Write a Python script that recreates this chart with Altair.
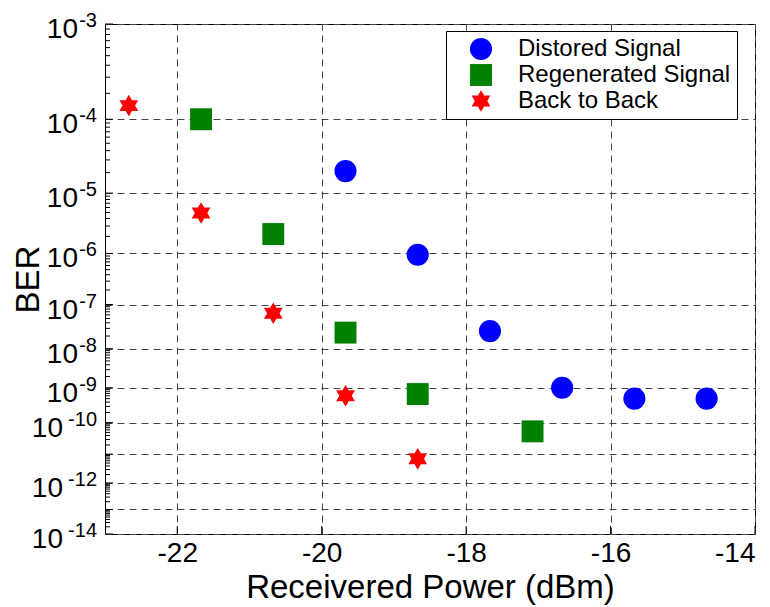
import math
import altair as alt
import pandas as pd

# ---- data ----
series_names = ["Distored Signal", "Regenerated Signal", "Back to Back"]
series_colors = ["#0000FF", "#008000", "#FF0000"]

distorted_power = [-19.67, -18.67, -17.67, -16.67, -15.67, -14.67]
distorted_ber = [2.1e-5, 9.5e-7, 2.6e-8, 1.0e-9, 5.0e-10, 5.0e-10]

regen_power = [-21.67, -20.67, -19.67, -18.67, -17.08]
regen_ber = [1.0e-4, 2.2e-6, 2.4e-8, 6.7e-10, 5.4e-11]

b2b_power = [-22.67, -21.67, -20.67, -19.67, -18.67]
b2b_ber = [1.45e-4, 4.9e-6, 6.5e-8, 6.0e-10, 7.0e-12]

x_ticks = [-22, -20, -18, -16, -14]
y_grid_exps = [3, 4, 5, 6, 7, 8, 9, 10, 11, 12, 13, 14]
y_label_exps = [3, 4, 5, 6, 7, 8, 9, 10, 12, 14]

# ---- tables ----
rows = []
for name, pw, ber in [
    (series_names[0], distorted_power, distorted_ber),
    (series_names[1], regen_power, regen_ber),
    (series_names[2], b2b_power, b2b_ber),
]:
    for p, b in zip(pw, ber):
        rows.append({"series": name, "power": p, "n": -math.log10(b)})
pts = pd.DataFrame(rows)

grid_df = pd.DataFrame({"n": y_grid_exps})
minor_df = pd.DataFrame(
    {"n": [m + 1 - math.log10(k) for m in range(3, 14) for k in range(2, 10)]}
)
lab_df = pd.DataFrame(
    {
        "n": y_label_exps,
        "ten": ["10"] * len(y_label_exps),
        "exp": ["-" + str(e) for e in y_label_exps],
    }
)
xt_df = pd.DataFrame({"power": x_ticks})

FONT = "Liberation Sans, Arial, sans-serif"
W, H = 650, 510
GRID = "#444444"

x_scale = alt.Scale(domain=[-23, -14], nice=False, zero=False)
y_scale = alt.Scale(type="log", domain=[3, 14], reverse=True, nice=False, zero=False)

x_axis = alt.Axis(
    values=x_ticks,
    grid=True,
    gridDash=[7, 5],
    gridColor=GRID,
    gridOpacity=1,
    ticks=False,
    domain=False,
    labelFontSize=28,
    labelPadding=5,
    labelExpr="'' + datum.value",
    title="Receivered Power (dBm)",
    titleFontSize=33,
    titleFontWeight="normal",
    titleBaseline="alphabetic",
    titleAlign="center",
    titleX=W / 2,
    titleY=63,
)
y_axis = alt.Axis(
    values=y_grid_exps,
    grid=True,
    gridDash=[7, 5],
    gridColor=GRID,
    gridOpacity=1,
    ticks=False,
    domain=False,
    labels=False,
    title="BER",
    titleFontSize=33,
    titleFontWeight="normal",
    titleAngle=-90,
    titleAlign="center",
    titleBaseline="middle",
    titleX=-77,
    titleY=H / 2,
)

X = alt.X("power:Q", scale=x_scale, axis=x_axis, title="Receivered Power (dBm)")
Y = alt.Y("n:Q", scale=y_scale, axis=y_axis, title="BER")

star = ("M0,-1L0.2887,-0.5L0.866,-0.5L0.577,0L0.866,0.5L0.2887,0.5L0,1"
        "L-0.2887,0.5L-0.866,0.5L-0.577,0L-0.866,-0.5L-0.2887,-0.5Z")

points = alt.Chart(pts).mark_point(filled=True, opacity=1).encode(
    x=X,
    y=Y,
    color=alt.Color(
        "series:N",
        sort=series_names,
        scale=alt.Scale(domain=series_names, range=series_colors),
        legend=alt.Legend(
            title=None,
            orient="none",
            legendX=341,
            legendY=7,
            symbolSize=500,
            symbolOpacity=1,
            symbolStrokeWidth=0,
            labelFontSize=24,
            labelFont=FONT,
            labelColor="black",
            labelLimit=400,
            strokeColor="black",
            fillColor="white",
            padding=6,
            symbolOffset=17,
            labelOffset=25,
            rowPadding=2,
        ),
    ),
    shape=alt.Shape(
        "series:N",
        sort=series_names,
        scale=alt.Scale(domain=series_names, range=["circle", "square", star]),
    ),
    size=alt.Size(
        "series:N",
        sort=series_names,
        scale=alt.Scale(domain=series_names, range=[490, 470, 530]),
        legend=None,
    ),
)

major_ticks = alt.Chart(grid_df).mark_rule(color="black", strokeWidth=1).encode(
    y=Y,
    x=alt.value(0),
    x2=alt.value(8),
)
minor_ticks = alt.Chart(minor_df).mark_rule(color="black", strokeWidth=1).encode(
    y=Y,
    x=alt.value(0),
    x2=alt.value(5),
)
bottom_ticks = alt.Chart(xt_df).mark_rule(color="black", strokeWidth=1).encode(
    x=X,
    y=alt.value(H),
    y2=alt.value(H - 8),
)

ten_single = alt.Chart(lab_df).transform_filter("datum.n < 10").mark_text(
    align="right", baseline="alphabetic", dy=14, fontSize=28, font=FONT, color="black"
).encode(y=Y, x=alt.value(-27), text="ten:N")
ten_double = alt.Chart(lab_df).transform_filter("datum.n >= 10").mark_text(
    align="right", baseline="alphabetic", dy=14, fontSize=28, font=FONT, color="black"
).encode(y=Y, x=alt.value(-42), text="ten:N")
exps = alt.Chart(lab_df).mark_text(
    align="right", baseline="alphabetic", dy=3, fontSize=20, font=FONT, color="black"
).encode(y=Y, x=alt.value(-8), text="exp:N")

chart = (
    alt.layer(points, major_ticks, minor_ticks, bottom_ticks, ten_single, ten_double, exps)
    .properties(
        width=W,
        height=H,
        autosize=alt.AutoSizeParams(type="none"),
        padding={"left": 97, "top": 16, "right": 7, "bottom": 72},
        view=alt.ViewBackground(stroke="black", strokeWidth=1, fill="white"),
    )
    .configure_view(stroke="black", strokeWidth=1)
    .configure_axis(
        labelFont=FONT,
        titleFont=FONT,
        labelColor="black",
        titleColor="black",
        titleFontWeight="normal",
    )
    .configure(background="white")
)

chart.save("out.html", embed_options={"renderer": "svg", "actions": False})
